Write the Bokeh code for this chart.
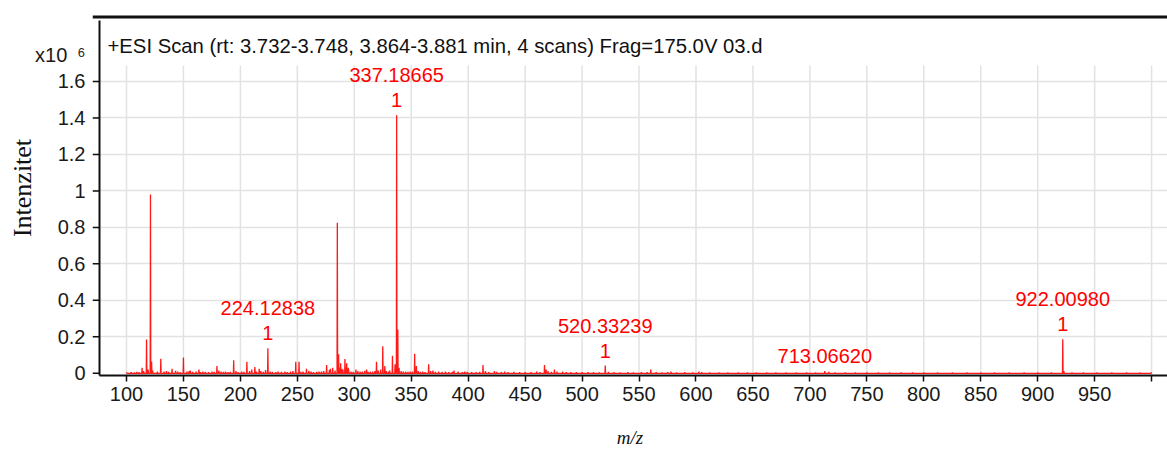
import math
from bokeh.plotting import figure
from bokeh.models import FixedTicker, Label, ColumnDataSource, Span
from bokeh.embed import file_html
from bokeh.resources import INLINE
from bokeh.core.properties import value

# ---------------- data ----------------
title_text = "+ESI Scan (rt: 3.732-3.748, 3.864-3.881 min, 4 scans) Frag=175.0V 03.d"
x_label = "m/z"
y_label = "Intenzitet"
scale_label = "x10\u2002\u2076"

x_ticks = [100, 150, 200, 250, 300, 350, 400, 450, 500, 550, 600, 650, 700, 750, 800, 850, 900, 950, 1000]
x_tick_labels = ["100", "150", "200", "250", "300", "350", "400", "450", "500", "550", "600", "650",
                 "700", "750", "800", "850", "900", "950", ""]
y_ticks = [0, 200000, 400000, 600000, 800000, 1000000, 1200000, 1400000, 1600000]
y_tick_labels = ["0", "0.2", "0.4", "0.6", "0.8", "1", "1.2", "1.4", "1.6"]

# main peaks (m/z, counts)
peak_mz = [117.6, 121.0509, 122.05, 130.1, 150.0, 179.4, 194.1, 205.7, 212.7, 224.12838,
           248.6, 251.5, 275.7, 285.1, 286.2, 288.0, 291.8, 293.3, 319.5, 325.0,
           333.5, 337.18665, 338.19, 353.0, 365.3, 413.0, 467.0, 520.33239, 560.3,
           713.06620, 922.00980]
peak_int = [185000, 980000, 64000, 80000, 87000, 40000, 72000, 63000, 35000, 137000,
            63000, 63000, 45000, 825000, 105000, 55000, 78000, 55000, 63000, 148000,
            96000, 1415000, 240000, 107000, 49000, 45000, 45000, 42000, 20000,
            12000, 186000]

# small background peaks (m/z, counts)
noise_mz = [100.2, 104.1, 107.0, 109.1, 111.0, 113.7, 115.1, 119.0, 123.0, 127.1, 133.0, 135.1, 137.0,
            140.0, 143.1, 145.0, 147.1, 153.1, 155.0, 156.1, 158.1, 161.1, 163.6, 165.0, 167.1,
            169.1, 172.0, 175.1, 177.0, 181.1, 183.0, 185.1, 187.0, 189.1, 191.1, 196.1,
            198.0, 201.1, 203.1, 208.1, 210.0, 214.1, 216.5, 218.0, 220.1, 222.1, 226.1,
            228.0, 231.1, 233.1, 236.0, 239.1, 241.1, 244.0, 246.1, 253.1, 255.0, 258.0,
            260.1, 262.0, 264.1, 267.1, 269.0, 271.1, 273.1, 278.1, 279.0, 281.0, 283.1,
            287.1, 289.1, 290.0, 294.7, 295.1, 297.1, 299.0, 301.4, 303.1, 305.1, 307.0,
            309.1, 310.8, 312.1, 314.0, 316.1, 318.1, 321.0, 323.1, 326.8, 328.1, 330.0,
            331.1, 335.8, 339.3, 341.1, 343.0, 345.1, 347.1, 349.0, 351.1, 354.5, 356.1,
            358.0, 360.1, 362.1, 367.1, 369.0, 371.1, 374.0, 377.1, 380.1, 383.0, 386.1,
            387.5, 391.1, 395.0, 397.0, 399.1, 403.1, 407.0, 410.1, 415.1, 418.0, 423.0,
            425.1, 429.1, 432.0, 435.0, 440.1, 445.1, 450.0, 455.1, 460.1, 463.0, 468.4,
            470.1, 473.1, 475.7, 478.0, 483.0, 486.1, 490.1, 495.0, 500.1, 505.1, 510.0,
            515.1, 523.1, 528.0, 533.1, 540.1, 545.0, 552.1, 557.1, 565.0, 570.1, 575.1,
            578.0, 583.0, 590.1, 597.1, 602.6, 605.0, 612.1, 620.1, 628.0, 637.1, 645.1,
            653.0, 662.1, 670.1, 679.0, 688.1, 697.1, 705.0, 716.6, 722.1, 731.1, 740.0,
            750.1, 760.1, 770.0, 780.1, 790.1, 800.0, 812.1, 825.1, 838.0, 850.1, 862.1,
            875.0, 888.1, 900.1, 912.0, 923.0, 930.1, 940.1, 952.0, 965.1, 978.1, 990.0,
            999.8]
noise_int = [4000, 6000, 5000, 8000, 7000, 30000, 12000, 20000, 15000, 10000, 9000, 12000, 8000,
             25000, 14000, 10000, 7000, 9000, 12000, 15000, 8000, 10000, 20000, 7000, 9000,
             8000, 6000, 10000, 8000, 15000, 9000, 8000, 10000, 6000, 8000, 12000,
             7000, 10000, 8000, 12000, 20000, 9000, 25000, 12000, 8000, 18000, 10000,
             8000, 7000, 9000, 8000, 10000, 7000, 9000, 12000, 8000, 10000, 25000,
             14000, 9000, 7000, 8000, 10000, 9000, 12000, 18000, 25000, 30000, 15000,
             30000, 25000, 20000, 30000, 20000, 10000, 8000, 20000, 12000, 9000, 10000,
             14000, 20000, 8000, 10000, 9000, 12000, 15000, 20000, 40000, 12000, 10000,
             15000, 50000, 30000, 12000, 10000, 9000, 8000, 10000, 9000, 40000, 12000,
             8000, 10000, 7000, 12000, 15000, 8000, 10000, 8000, 9000, 7000, 8000,
             15000, 9000, 7000, 10000, 8000, 7000, 6000, 8000, 12000, 7000, 12000,
             8000, 7000, 10000, 6000, 8000, 6000, 7000, 6000, 9000, 7000, 20000,
             12000, 8000, 20000, 9000, 10000, 7000, 6000, 7000, 6000, 7000, 6000,
             5000, 8000, 6000, 5000, 6000, 5000, 6000, 7000, 6000, 5000, 7000,
             10000, 5000, 6000, 5000, 10000, 6000, 5000, 5000, 4000, 5000, 4000,
             5000, 4000, 5000, 4000, 5000, 4000, 5000, 8000, 4000, 5000, 4000,
             4000, 5000, 4000, 4000, 4000, 4000, 4000, 4000, 4000, 4000, 4000,
             4000, 4000, 4000, 4000, 12000, 4000, 4000, 4000, 4000, 4000, 4000,
             4000]

# annotated peaks
label_mz = [224.12838, 337.18665, 520.33239, 713.06620, 922.00980]
label_text = ["224.12838", "337.18665", "520.33239", "713.06620", "922.00980"]
label_charge = ["1", "1", "1", "", "1"]

# ---------------- layout constants ----------------
W, H = 1167, 450
FONT = "Liberation Sans"
RED = "#ff0000"
INK = "#111111"
GRID = "#e2e2e2"

X_RANGE = (70.15, 1013.96)      # frame spans canvas x 92..1167
Y_RANGE = (-12060, 2044100)     # frame spans canvas y 0..375
AXIS_X = 76.3                   # where the vertical axis line sits (canvas x 99)
AXIS_TOP = 1934500              # axis line top (canvas y 20)
AXIS_BOT = -20000
GRID_TOP = 1688000              # vertical grid lines stop here (canvas y 65)
RULE_Y = 1953700                # thick rule at the top of the page (canvas y 16.5)
SCALE_POS = 1748000             # where the "x10 6" multiplier sits on the y axis
Y_BOUNDS = (-2000, 1809200)     # label extent of the y axis (centres its title)

p = figure(width=W, height=H, x_range=X_RANGE, y_range=Y_RANGE,
           toolbar_location=None, output_backend="svg",
           min_border_top=0, min_border_left=92, min_border_right=0, min_border_bottom=75,
           outline_line_color=None, background_fill_color="white", border_fill_color="white")

# ---- x axis (library axis) ----
p.xaxis.ticker = FixedTicker(ticks=x_ticks, minor_ticks=[])
p.xaxis.major_label_overrides = {t: s for t, s in zip(x_ticks, x_tick_labels)}
p.xaxis.bounds = (AXIS_X, X_RANGE[1])
p.xaxis.axis_line_color = INK
p.xaxis.axis_line_width = 2
p.xaxis.major_tick_line_color = INK
p.xaxis.major_tick_line_width = 1.5
p.xaxis.major_tick_in = 0
p.xaxis.major_tick_out = 6
p.xaxis.minor_tick_line_color = None
p.xaxis.major_label_text_font = FONT
p.xaxis.major_label_text_font_size = "20px"
p.xaxis.major_label_text_color = "#1a1a1a"
p.xaxis.major_label_standoff = 5
p.xaxis.axis_label = x_label
p.xaxis.axis_label_text_font = "Liberation Serif"
p.xaxis.axis_label_text_font_style = "italic"
p.xaxis.axis_label_text_font_size = "19px"
p.xaxis.axis_label_text_color = INK
p.xaxis.axis_label_standoff = 23

# ---- y axis (library axis for labels; line and tick marks drawn in the frame) ----
p.yaxis.ticker = FixedTicker(ticks=y_ticks + [SCALE_POS], minor_ticks=[])
overrides = {t: s for t, s in zip(y_ticks, y_tick_labels)}
overrides[SCALE_POS] = scale_label
p.yaxis.major_label_overrides = overrides
p.yaxis.bounds = Y_BOUNDS
p.yaxis.axis_line_color = None
p.yaxis.major_tick_line_color = None
p.yaxis.major_tick_in = 0
p.yaxis.major_tick_out = 0
p.yaxis.minor_tick_line_color = None
p.yaxis.major_label_standoff = 7
p.yaxis.major_label_text_font = FONT
p.yaxis.major_label_text_font_size = "20px"
p.yaxis.major_label_text_color = "#1a1a1a"
p.yaxis.axis_label = y_label
p.yaxis.axis_label_text_font = "Liberation Serif"
p.yaxis.axis_label_text_font_style = "normal"
p.yaxis.axis_label_text_font_size = "26px"
p.yaxis.axis_label_text_color = INK
p.yaxis.axis_label_standoff = -5

# ---- grid ----
p.xgrid.visible = False
p.ygrid.ticker = FixedTicker(ticks=y_ticks[1:])
p.ygrid.grid_line_color = GRID
p.ygrid.grid_line_width = 1.5
p.segment(x0=x_ticks, y0=[Y_RANGE[0]] * len(x_ticks), x1=x_ticks, y1=[GRID_TOP] * len(x_ticks),
          line_color=GRID, line_width=1.5)

# ---- spectrum as a stick profile ----
pts = sorted(zip(peak_mz + noise_mz, peak_int + noise_int))
xs, ys = [], []
for mz, inten in pts:
    xs += [mz - 0.25, mz, mz + 0.25]
    ys += [0, inten, 0]
p.line(xs, ys, line_color=RED, line_width=1.3, line_alpha=0.9)

# ---- y axis line and tick marks ----
p.segment(x0=[AXIS_X], y0=[AXIS_BOT], x1=[AXIS_X], y1=[AXIS_TOP], line_color=INK, line_width=2)
p.ray(x=[AXIS_X] * len(y_ticks), y=y_ticks, length=7, angle=math.pi, length_units="screen",
      line_color=INK, line_width=1.5)

# ---- top rule ----
p.add_layout(Span(location=RULE_Y, dimension="width", line_color=INK, line_width=3))

# ---- peak labels ----
lookup = dict(zip(peak_mz, peak_int))
lab_y = [lookup[m] for m in label_mz]
src = ColumnDataSource(dict(
    x=label_mz, y=lab_y, text=label_text, charge=label_charge,
    off=[-40 if c else -15 for c in label_charge],
))
p.text(x="x", y="y", text="charge", source=src, y_offset=-15,
       text_align="center", text_baseline="middle", text_color=RED,
       text_font=value(FONT), text_font_size="20px")
p.text(x="x", y="y", text="text", source=src, y_offset="off",
       text_align="center", text_baseline="middle", text_color=RED,
       text_font=value(FONT), text_font_size="20px")

# ---- title inside plot area ----
p.add_layout(Label(x=15, y=330, x_units="screen", y_units="screen", text=title_text,
                   text_font=FONT, text_font_size="20.3px", text_color=INK,
                   text_baseline="middle", text_align="left"))

open("out.html", "w").write(file_html(p, INLINE))
